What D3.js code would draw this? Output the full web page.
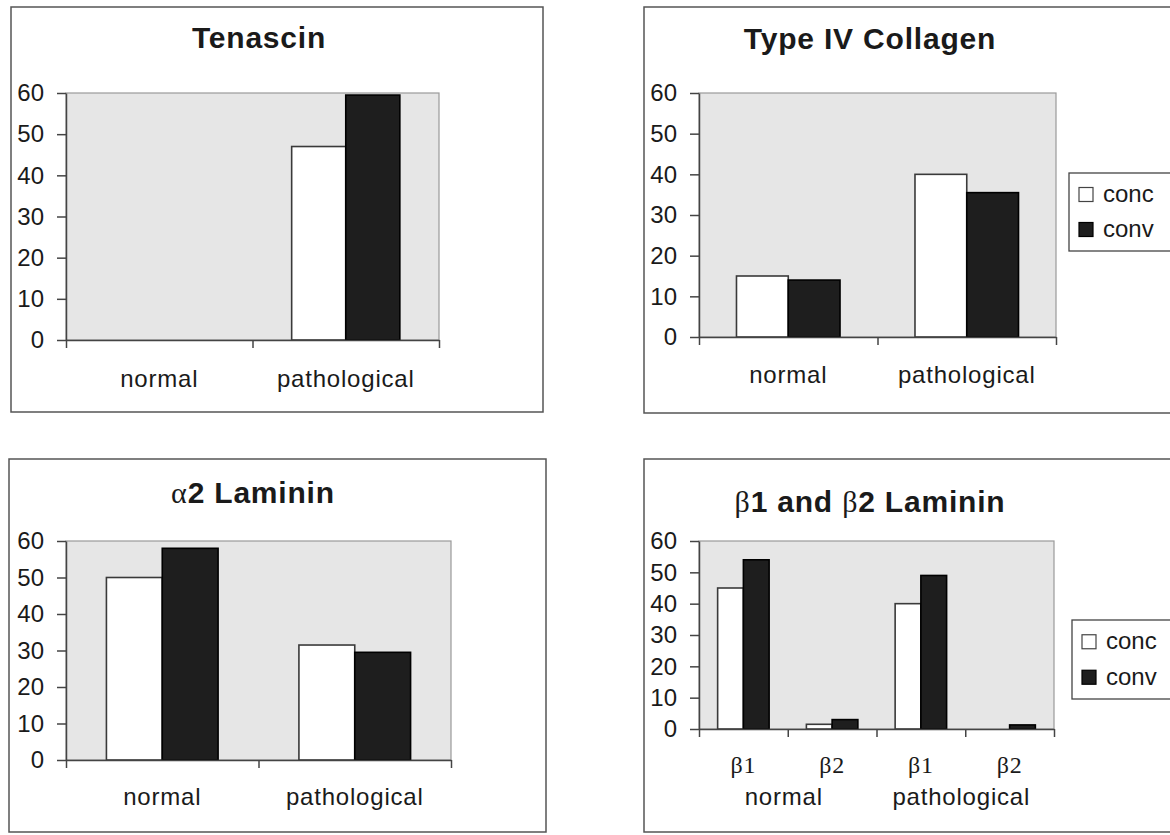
<!DOCTYPE html>
<html>
<head>
<meta charset="utf-8">
<script src="https://cdn.jsdelivr.net/npm/d3@7"></script>
<style>
  body { margin: 0; background: #fff; }
  svg { display: block; }
  text { font-family: Arial, "Liberation Sans", sans-serif; fill: #1a1a1a; }
  .tick text { font-size: 24px; }
  .title { font-size: 30px; font-weight: bold; letter-spacing: 0.8px; }
  .cat { font-size: 24px; letter-spacing: 0.8px; }
  .greek { font-family: "Times New Roman", "Liberation Serif", "DejaVu Serif", serif; font-weight: normal; }
</style>
</head>
<body>
<script>
// data
const groups = ['normal', 'pathological'];
const series = ['conc', 'conv'];
const yTicks = [0, 10, 20, 30, 40, 50, 60];

const tenascinConc = [0, 47];
const tenascinConv = [0, 59.5];

const collagenConc = [15, 40];
const collagenConv = [14, 35.5];

const alphaConc = [50, 31.5];
const alphaConv = [58, 29.5];

const betaCats = ['β1', 'β2', 'β1', 'β2'];
const betaGroups = ['normal', 'normal', 'pathological', 'pathological'];
const betaConc = [45, 1.5, 40, 0];
const betaConv = [54, 3, 49, 1.3];

const width = 1170;
const height = 835;

const svg = d3.select('body').append('svg')
    .attr('width', width)
    .attr('height', height);

function drawPanel(p) {
    const g = svg.append('g');

    // outer frame
    g.append('rect')
        .attr('x', p.frame[0]).attr('y', p.frame[1])
        .attr('width', p.frame[2] - p.frame[0])
        .attr('height', p.frame[3] - p.frame[1])
        .attr('fill', 'none')
        .attr('stroke', '#555')
        .attr('stroke-width', 1.5);

    const y = d3.scaleLinear().domain([0, 60]).range([p.bottom, p.top]);
    const x0 = d3.scaleBand().domain(d3.range(p.cats.length)).range([p.left, p.right]);
    const bw = x0.bandwidth();
    const x1 = d3.scaleBand().domain(series).range([bw * 0.21, bw * 0.79]);

    // plot area
    g.append('rect')
        .attr('x', p.left).attr('y', p.top)
        .attr('width', p.right - p.left)
        .attr('height', p.bottom - p.top)
        .attr('fill', '#e6e6e6')
        .attr('stroke', '#9a9a9a')
        .attr('stroke-width', 1.2);

    // bars
    const rows = p.cats.map((c, i) => ({i: i, vals: [p.conc[i], p.conv[i]]}));
    const cat = g.selectAll('.catg')
        .data(rows)
        .enter().append('g')
        .attr('transform', d => `translate(${x0(d.i)},0)`);

    cat.selectAll('rect')
        .data(d => d.vals.map((v, k) => ({s: series[k], v: v})).filter(e => e.v > 0))
        .enter().append('rect')
        .attr('x', d => x1(d.s))
        .attr('y', d => y(d.v))
        .attr('width', x1.bandwidth())
        .attr('height', d => y(0) - y(d.v))
        .attr('fill', d => d.s == 'conc' ? '#ffffff' : '#1e1e1e')
        .attr('stroke', d => d.s == 'conc' ? '#3a3a3a' : '#000')
        .attr('stroke-width', 1.6);

    // y axis
    const yAxis = g.append('g')
        .attr('transform', `translate(${p.left},0)`)
        .call(d3.axisLeft(y).tickValues(yTicks).tickSize(9).tickSizeOuter(0).tickPadding(13));
    yAxis.select('.domain').attr('stroke', '#444').attr('stroke-width', 1.5);
    yAxis.selectAll('.tick line').attr('stroke', '#444').attr('stroke-width', 1.5);
    yAxis.selectAll('.tick text').attr('fill', '#1a1a1a').style('font-family', 'Arial, "Liberation Sans", sans-serif');

    // x axis: ticks at band boundaries
    const xb = d3.scaleLinear().domain([0, p.cats.length]).range([p.left, p.right]);
    const xAxis = g.append('g')
        .attr('transform', `translate(0,${p.bottom})`)
        .call(d3.axisBottom(xb).tickValues(d3.range(p.cats.length + 1)).tickFormat('').tickSize(8).tickSizeOuter(0));
    xAxis.select('.domain').attr('stroke', '#444').attr('stroke-width', 1.5);
    xAxis.selectAll('.tick line').attr('stroke', '#444').attr('stroke-width', 1.5);

    // category labels
    if (p.sub) {
        g.selectAll('.sub')
            .data(p.sub)
            .enter().append('text')
            .attr('class', 'cat greek')
            .attr('x', (d, i) => x0(i) + bw / 2)
            .attr('y', p.subY)
            .attr('text-anchor', 'middle')
            .text(d => d);
        const grp = Array.from(new Set(p.cats));
        g.selectAll('.grp')
            .data(grp)
            .enter().append('text')
            .attr('class', 'cat')
            .attr('x', d => {
                const idx = p.cats.map((c, i) => c == d ? i : -1).filter(i => i >= 0);
                return (x0(idx[0]) + x0(idx[idx.length - 1]) + bw) / 2 - 4;
            })
            .attr('y', p.catY)
            .attr('text-anchor', 'middle')
            .text(d => d);
    } else {
        g.selectAll('.grp')
            .data(p.cats)
            .enter().append('text')
            .attr('class', 'cat')
            .attr('x', (d, i) => x0(i) + bw / 2)
            .attr('y', p.catY)
            .attr('text-anchor', 'middle')
            .text(d => d);
    }

    // title
    const t = g.append('text')
        .attr('class', 'title')
        .attr('x', p.titleX)
        .attr('y', p.titleY)
        .attr('text-anchor', 'middle');
    p.title.forEach(part => {
        t.append('tspan')
            .attr('class', part.greek ? 'greek' : null)
            .style('font-weight', part.greek ? 'normal' : null)
            .style('font-family', part.greek ? '"Times New Roman", "Liberation Serif", serif' : null)
            .text(part.s);
    });

    // legend
    if (p.legend) {
        const L = p.legend;
        g.append('rect')
            .attr('x', L[0]).attr('y', L[1])
            .attr('width', L[2] - L[0]).attr('height', L[3] - L[1])
            .attr('fill', '#fff')
            .attr('stroke', '#444')
            .attr('stroke-width', 1.3);
        const rowH = (L[3] - L[1]) / 2;
        const items = g.selectAll('.leg')
            .data(series)
            .enter().append('g')
            .attr('transform', (d, i) => `translate(${L[0] + 10},${L[1] + rowH * (i + 0.5) + (i == 0 ? 2 : -2)})`);
        items.append('rect')
            .attr('x', 0).attr('y', -7)
            .attr('width', 14).attr('height', 14)
            .attr('fill', d => d == 'conc' ? '#fff' : '#1e1e1e')
            .attr('stroke', d => d == 'conc' ? '#444' : '#000')
            .attr('stroke-width', 1.2);
        items.append('text')
            .attr('x', 24)
            .attr('y', 0)
            .attr('dy', '0.32em')
            .style('font-size', '24px')
            .text(d => d);
    }
}

drawPanel({
    frame: [11, 7, 543, 412],
    left: 66, right: 439, top: 93, bottom: 340,
    cats: groups, conc: tenascinConc, conv: tenascinConv,
    catY: 387,
    title: [{s: 'Tenascin'}], titleX: 259, titleY: 48
});

drawPanel({
    frame: [644, 7, 1185, 413],
    left: 699, right: 1056, top: 93, bottom: 337,
    cats: groups, conc: collagenConc, conv: collagenConv,
    catY: 383,
    title: [{s: 'Type IV Collagen'}], titleX: 870, titleY: 49,
    legend: [1069, 173, 1185, 251]
});

drawPanel({
    frame: [9, 459, 546, 832],
    left: 66, right: 451, top: 541, bottom: 760,
    cats: groups, conc: alphaConc, conv: alphaConv,
    catY: 805,
    title: [{s: 'α', greek: true}, {s: '2 Laminin'}], titleX: 253, titleY: 503
});

drawPanel({
    frame: [644, 459, 1185, 832],
    left: 699, right: 1054, top: 541, bottom: 729,
    cats: betaGroups, sub: betaCats, conc: betaConc, conv: betaConv,
    subY: 773, catY: 805,
    title: [{s: 'β', greek: true}, {s: '1 and '}, {s: 'β', greek: true}, {s: '2 Laminin'}], titleX: 870, titleY: 512,
    legend: [1072, 620, 1185, 699]
});
</script>
</body>
</html>
